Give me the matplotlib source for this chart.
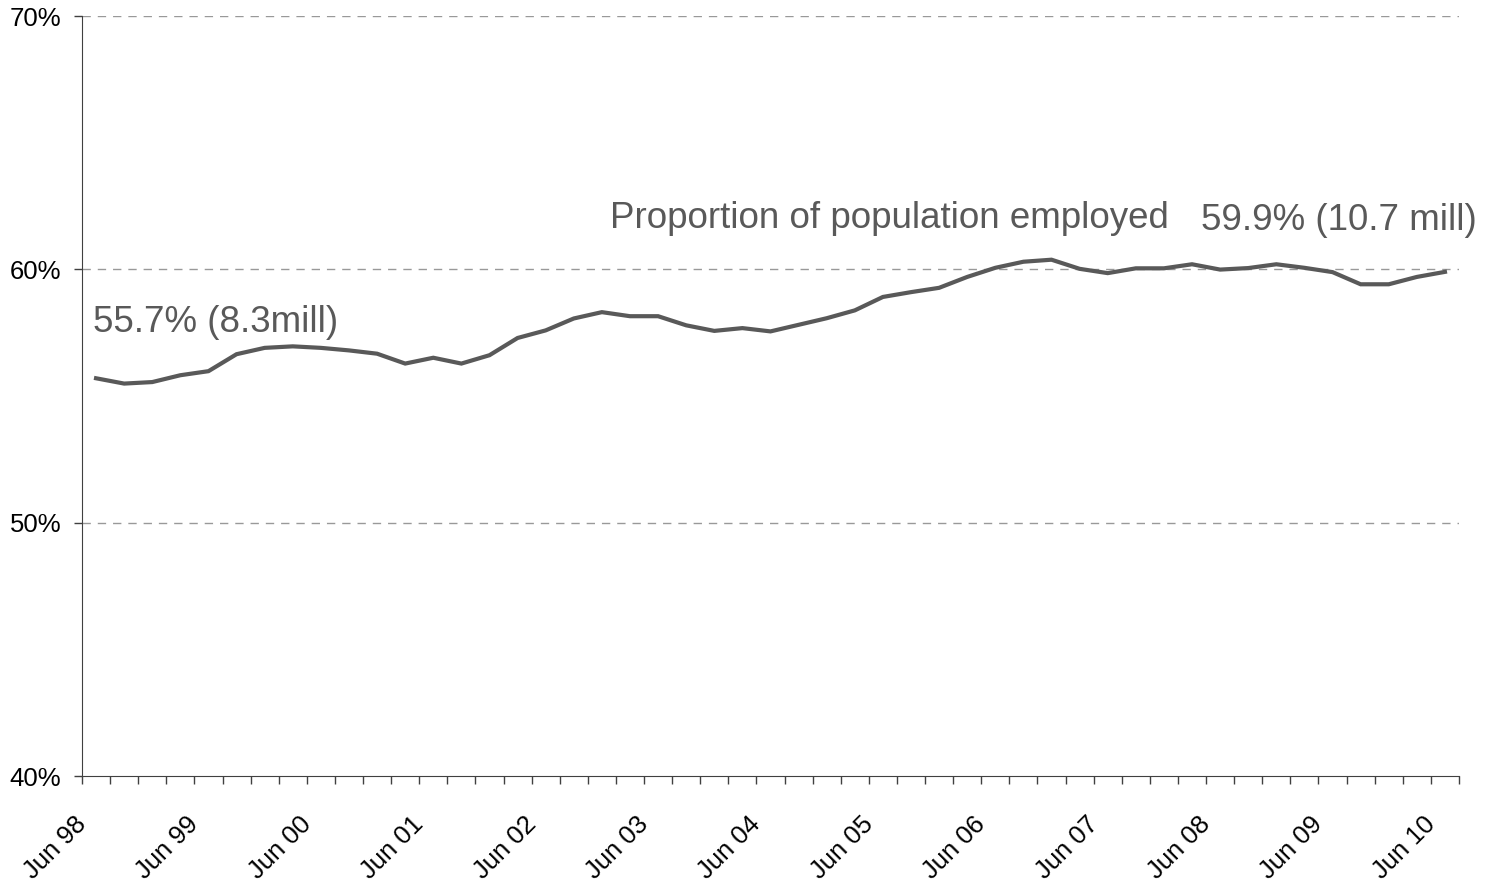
import matplotlib
matplotlib.use('Agg')
import matplotlib.pyplot as plt
import matplotlib.transforms as mtransforms
import numpy as np

plt.rcParams['font.family'] = ['Liberation Sans', 'DejaVu Sans']

# Quarterly employment rate, Jun 98 .. Jun 10
quarters = ['Jun 98', 'Sep 98', 'Dec 98', 'Mar 99',
            'Jun 99', 'Sep 99', 'Dec 99', 'Mar 00',
            'Jun 00', 'Sep 00', 'Dec 00', 'Mar 01',
            'Jun 01', 'Sep 01', 'Dec 01', 'Mar 02',
            'Jun 02', 'Sep 02', 'Dec 02', 'Mar 03',
            'Jun 03', 'Sep 03', 'Dec 03', 'Mar 04',
            'Jun 04', 'Sep 04', 'Dec 04', 'Mar 05',
            'Jun 05', 'Sep 05', 'Dec 05', 'Mar 06',
            'Jun 06', 'Sep 06', 'Dec 06', 'Mar 07',
            'Jun 07', 'Sep 07', 'Dec 07', 'Mar 08',
            'Jun 08', 'Sep 08', 'Dec 08', 'Mar 09',
            'Jun 09', 'Sep 09', 'Dec 09', 'Mar 10',
            'Jun 10']
employed_pct = [55.70, 55.49, 55.55, 55.82, 55.98, 56.65, 56.90, 56.96,
                56.90, 56.80, 56.67, 56.28, 56.51, 56.28, 56.61, 57.29,
                57.59, 58.06, 58.31, 58.15, 58.15, 57.79, 57.57, 57.68,
                57.55, 57.81, 58.07, 58.38, 58.91, 59.10, 59.27, 59.70,
                60.06, 60.30, 60.38, 60.02, 59.85, 60.04, 60.04, 60.20,
                59.99, 60.05, 60.20, 60.06, 59.89, 59.41, 59.41, 59.70,
                59.90]
y_ticks = [40, 50, 60, 70]

LINE = '#595959'
W, H = 1493, 883

fig = plt.figure(figsize=(W / 100, H / 100), dpi=100, facecolor='white')
ax = fig.add_axes([82 / W, 1 - 776 / H, (1459 - 82) / W, (776 - 16) / H])

x = np.arange(len(quarters))
ax.plot(x, employed_pct, color=LINE, linewidth=3.0, solid_joinstyle='miter')

ax.set_xlim(-0.5, len(quarters) - 0.5)
ax.set_ylim(40, 70)

# y axis
ax.set_yticks(y_ticks)
ax.set_yticklabels([f'{v}%' for v in y_ticks])
for v in y_ticks[1:]:
    ax.axhline(v, color='#999999', linewidth=1.0, dashes=(6, 5), zorder=0)
ax.tick_params(axis='y', direction='out', length=6, width=1, color='#404040',
               pad=9, labelsize=18.5, labelcolor='black')

# x axis: tick marks between categories, labels every 4th quarter
ax.set_xticks(np.arange(len(quarters) + 1) - 0.5)
ax.set_xticklabels([])
ax.tick_params(axis='x', which='major', direction='out', length=6, width=1, color='#404040')
lab_pos = x[::4]
ax.set_xticks(lab_pos, minor=True)
ax.tick_params(axis='x', which='minor', length=0, pad=26, labelsize=18.5, labelcolor='black')
ax.set_xticklabels([quarters[i] for i in lab_pos], minor=True,
                   rotation=45, ha='right', va='top', rotation_mode='anchor')
offset = mtransforms.ScaledTranslation(-22 / 100, 0, fig.dpi_scale_trans)
for lbl in ax.get_xticklabels(minor=True):
    lbl.set_transform(lbl.get_transform() + offset)

for side in ('top', 'right'):
    ax.spines[side].set_visible(False)
ax.spines['left'].set_color('#404040')
ax.spines['bottom'].set_color('#404040')

# annotations
ax.text(93 / W, 1 - 322 / H, '55.7% (8.3mill)', transform=fig.transFigure,
        fontsize=26.5, color=LINE, ha='left', va='center')
ax.text(610 / W, 1 - 218 / H, 'Proportion of population employed', transform=fig.transFigure,
        fontsize=26.5, color=LINE, ha='left', va='center')
ax.text(1201 / W, 1 - 220 / H, '59.9% (10.7 mill)', transform=fig.transFigure,
        fontsize=26.5, color=LINE, ha='left', va='center')

fig.savefig('out.png', dpi=100, facecolor='white')
